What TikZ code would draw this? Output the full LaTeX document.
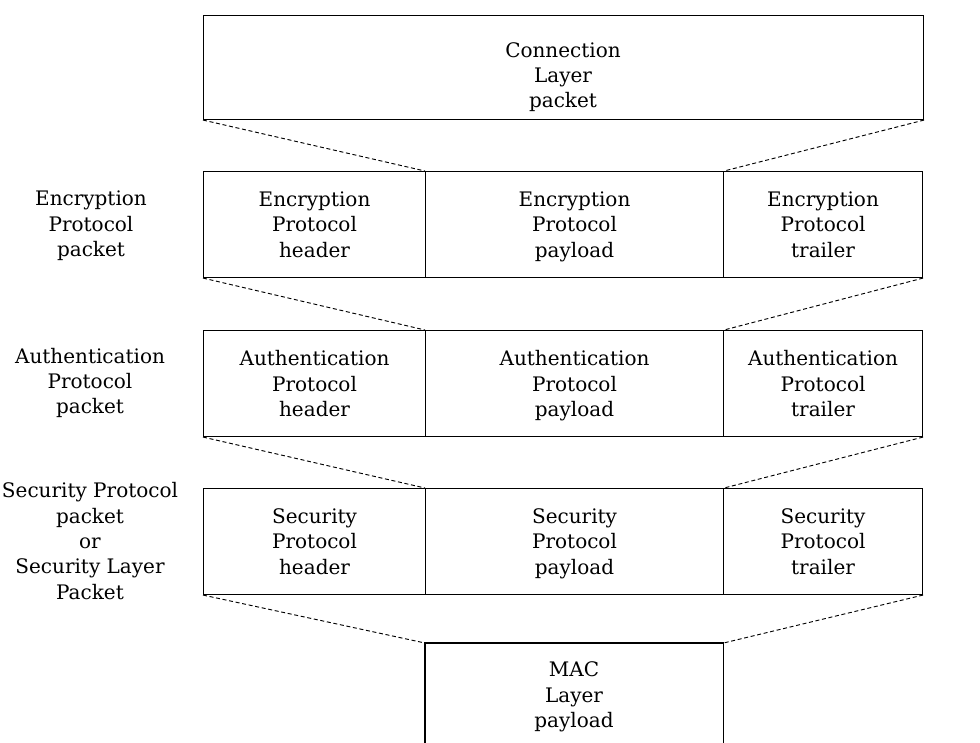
\documentclass[tikz,border=0pt]{standalone}
\usepackage{fontspec}
\setmainfont{DejaVu Serif}
\begin{document}
\begin{tikzpicture}[x=0.75pt,y=-0.75pt,
  every node/.style={font=\fontsize{15}{19}\selectfont, align=center},
  cell/.style={draw, line width=0.8pt, inner sep=0pt, anchor=north west, minimum height=79.5pt, text depth=0pt},
  wA/.style={minimum width=166.5pt},
  wB/.style={minimum width=223.5pt},
  wC/.style={minimum width=149.25pt},
  conn/.style={line width=0.7pt, dash pattern=on 3pt off 2pt},
  txt/.style={inner sep=0pt}]
\useasboundingbox (0,0) rectangle (980,742);
% Connection layer packet
\node[draw, line width=0.8pt, inner sep=0pt, anchor=north west, minimum width=540pt, minimum height=78pt] (cl) at (203,15) {};
\node[txt] (cltxt) at (563,77) {Connection\\Layer\\packet};
% Encryption row
\node[cell,wA] (eh) at (203,171) {Encryption\\Protocol\\header};
\node[cell,wB] (ep) at (425,171) {Encryption\\Protocol\\payload};
\node[cell,wC] (et) at (723,171) {Encryption\\Protocol\\trailer};
% Authentication row
\node[cell,wA] (ah) at (203,330) {Authentication\\Protocol\\header};
\node[cell,wB] (ap) at (425,330) {Authentication\\Protocol\\payload};
\node[cell,wC] (at) at (723,330) {Authentication\\Protocol\\trailer};
% Security row
\node[cell,wA] (sh) at (203,488) {Security\\Protocol\\header};
\node[cell,wB] (sp) at (425,488) {Security\\Protocol\\payload};
\node[cell,wC] (st) at (723,488) {Security\\Protocol\\trailer};
% MAC layer payload (open at bottom)
\node[inner sep=0pt, anchor=north west, minimum width=223.5pt, minimum height=76pt] (mac) at (425,643) {};
\node[txt] (mactxt) at (574,697) {MAC\\Layer\\payload};
\draw[line width=0.8pt] (mac.south west) -- (mac.north west) -- (mac.north east) -- (mac.south east);
% Left labels
\node[txt] (lenc) at (91,226) {Encryption\\Protocol\\packet};
\node[txt] (lauth) at (90,383) {Authentication\\Protocol\\packet};
\node[txt] (lsec) at (90,541) {Security Protocol\\packet\\or\\Security Layer\\Packet};
% Dashed expansion lines
\draw[conn] (cl.south west) -- (ep.north west);
\draw[conn] (cl.south east) -- (ep.north east);
\draw[conn] (eh.south west) -- (ap.north west);
\draw[conn] (et.south east) -- (ap.north east);
\draw[conn] (ah.south west) -- (sp.north west);
\draw[conn] (at.south east) -- (sp.north east);
\draw[conn] (sh.south west) -- (mac.north west);
\draw[conn] (st.south east) -- (mac.north east);
\end{tikzpicture}
\end{document}
